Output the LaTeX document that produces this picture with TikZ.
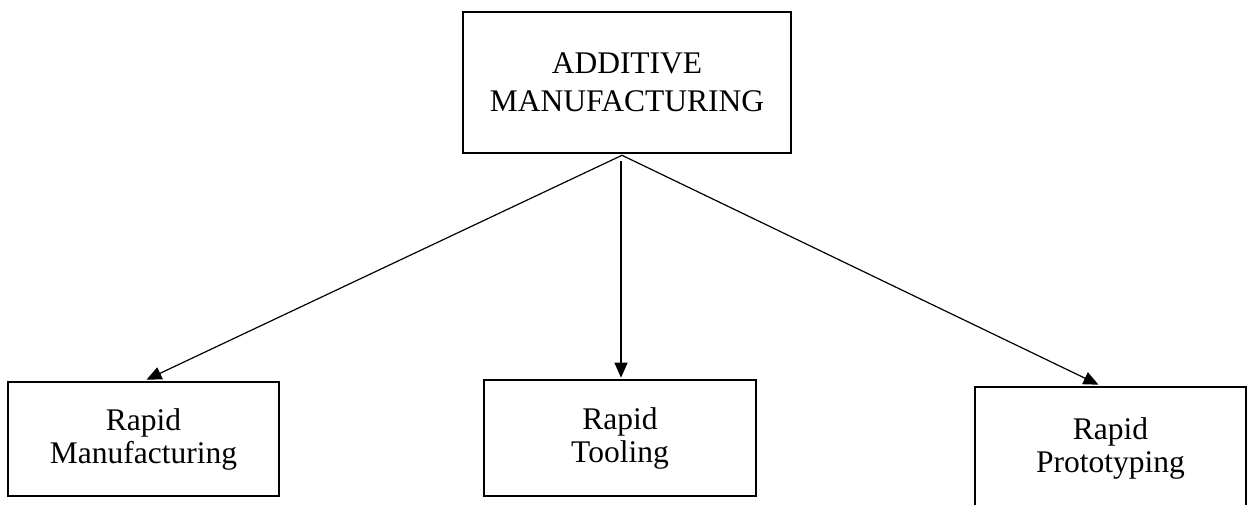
\documentclass[tikz,border=0pt]{standalone}
\usepackage{fontspec}
\setmainfont{Liberation Serif}
\usetikzlibrary{arrows.meta}
\begin{document}
\begin{tikzpicture}[x=1pt,y=-1pt,
  box/.style={draw, line width=2.6pt, rectangle, align=center, inner sep=0pt},
  topfont/.style={font=\fontsize{31.5}{38}\selectfont},
  botfont/.style={font=\fontsize{31.5}{33}\selectfont},
  conn/.style={line width=1.2pt, -{Triangle[length=15pt,width=13pt]}}]
\useasboundingbox (0,0) rectangle (1251,505);
\clip (0,0) rectangle (1251,505);
\node[box, topfont, minimum width=328pt, minimum height=141pt] (top) at (627,82.5) {ADDITIVE\\MANUFACTURING};
\node[box, botfont, minimum width=271pt, minimum height=114pt] (rm) at (143.5,439) {Rapid\\Manufacturing};
\node[box, botfont, minimum width=272pt, minimum height=116pt] (rt) at (620,438) {Rapid\\Tooling};
\node[box, botfont, minimum width=271pt, minimum height=122pt] (rp) at (1110.5,448) {Rapid\\Prototyping};
\coordinate (src) at ([xshift=-5pt,yshift=-1pt]top.south);
\coordinate (vsrc) at ([xshift=-6pt,yshift=-7pt]top.south);
\draw[conn] (src) -- ([xshift=3pt,yshift=1pt]rm.north);
\draw[conn] (vsrc) -- ([xshift=1pt,yshift=1pt]rt.north);
\draw[conn] (src) -- ([xshift=-12pt,yshift=1pt]rp.north);
\end{tikzpicture}
\end{document}
